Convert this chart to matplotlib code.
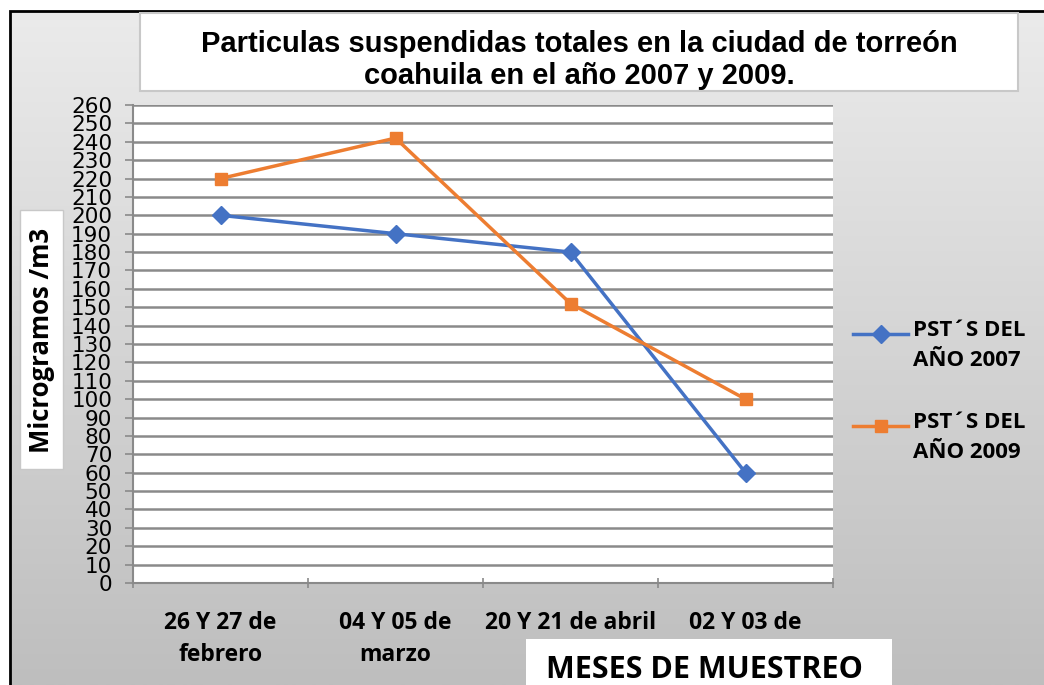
import numpy as np
import matplotlib.pyplot as plt
from matplotlib.colors import LinearSegmentedColormap
from matplotlib.patches import Rectangle
from matplotlib.lines import Line2D

# Data
categorias = ['26 Y 27 de\nfebrero', '04 Y 05 de\nmarzo', '20 Y 21 de abril', '02 Y 03 de']
pst_2007 = [200, 190, 180, 60]
pst_2009 = [220, 242, 152, 100]
series_names = ['PST´S DEL\nAÑO 2007', 'PST´S DEL\nAÑO 2009']
y_ticks = list(range(0, 270, 10))

W, H = 1044, 685
fig = plt.figure(figsize=(W / 100, H / 100), dpi=100)


def fx(x):
    return x / W


def fy(y):
    return 1 - y / H


# background: gray gradient with partial black frame (pixel coords)
bg = fig.add_axes([0, 0, 1, 1], zorder=-5)
bg.set_xlim(0, W)
bg.set_ylim(H, 0)
bg.axis('off')
grad = np.linspace(0, 1, 256).reshape(-1, 1)
bg.imshow(grad, cmap=LinearSegmentedColormap.from_list('g', ['#ebebeb', '#bebebe']),
          extent=(10, W, H, 11), aspect='auto', zorder=0)
bg.plot([10, 10, W], [H, 11, 11], color='black', lw=2, zorder=1, solid_joinstyle='miter')

# title box
bg.add_patch(Rectangle((140, 13), 878, 78, facecolor='white', edgecolor='#c8c8c8', lw=1.5, zorder=2))
bg.text(579, 60, 'Particulas suspendidas totales en la ciudad de torreón\ncoahuila en el año 2007 y 2009.',
        ha='center', va='center', fontsize=21, fontweight='bold', family='Liberation Sans',
        linespacing=1.2, zorder=3)

# y label box
bg.add_patch(Rectangle((20, 210), 43, 259, facecolor='white', edgecolor='#c8c8c8', lw=1, zorder=2))
bg.text(42, 340, 'Microgramos /m3', rotation=90, ha='center', va='center',
        fontsize=18.5, fontweight='bold', family='Open Sans', zorder=3)

# main plot area
ax = fig.add_axes([fx(133), fy(583), fx(833) - fx(133), (583 - 105) / H])
x = np.arange(len(categorias))
ax.plot(x, pst_2007, color='#4472C4', lw=2.5, marker='D', markersize=9, zorder=3)
ax.plot(x, pst_2009, color='#ED7D31', lw=2.5, marker='s', markersize=9, zorder=3)

ax.set_xlim(-0.5, len(categorias) - 0.5)
ax.set_ylim(0, 260)
ax.set_yticks(y_ticks)
ax.set_yticklabels([str(v) for v in y_ticks], fontsize=15.5, family=['Liberation Sans Narrow', 'DejaVu Sans'])
ax.yaxis.grid(True, color='#8a8a8a', lw=1.8)
ax.set_axisbelow(True)
ax.tick_params(axis='y', length=6, width=1.2, color='#8a8a8a', pad=9)

ax.set_xticks(x)
ax.set_xticklabels(categorias, fontsize=16.5, fontweight='bold', family='Open Sans', linespacing=1.45)
ax.tick_params(axis='x', length=0, pad=20)
ax.set_xticks(np.arange(-0.5, len(categorias)), minor=True)
ax.tick_params(axis='x', which='minor', length=7, width=1.2, color='#8a8a8a', direction='inout')

for s in ['top', 'right']:
    ax.spines[s].set_visible(False)
for s in ['left', 'bottom']:
    ax.spines[s].set_color('#8a8a8a')
    ax.spines[s].set_linewidth(1.5)

# x title box
bg.add_patch(Rectangle((526, 639), 366, 50, facecolor='white', edgecolor='none', zorder=2))
bg.text(546, 670, 'MESES DE MUESTREO', ha='left', va='center', fontsize=22,
        fontweight='bold', family='Open Sans', zorder=3)

# legend, drawn by hand so the handle sits on the first text line
legend_style = [('#4472C4', 'D'), ('#ED7D31', 's')]
for i, (name, (col, mk)) in enumerate(zip(series_names, legend_style)):
    y0 = 334 + i * 92
    bg.add_line(Line2D([853, 880.5, 908], [y0, y0, y0], lw=2.5, color=col,
                       marker=mk, markersize=9, markevery=[1], zorder=3))
    bg.text(913, y0 - 14, name, ha='left', va='top', fontsize=16, fontweight='bold',
            family='Open Sans', linespacing=1.55, zorder=3)

fig.savefig('out.png', dpi=100)
